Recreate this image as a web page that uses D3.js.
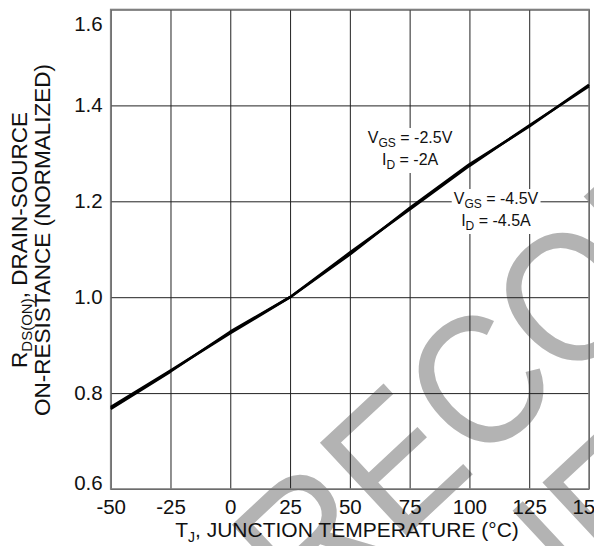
<!DOCTYPE html>
<html>
<head>
<meta charset="utf-8">
<script src="https://cdn.jsdelivr.net/npm/d3@7"></script>
<style>
  body { margin: 0; background: #fff; }
  svg { display: block; font-family: "Liberation Sans", Arial, sans-serif; }
</style>
</head>
<body>
<script>
// data
var temps = [-50, -25, 0, 25, 50, 75, 100, 125, 150];
var rdsVgs25 = [0.771, 0.847, 0.925, 1.0, 1.093, 1.183, 1.274, 1.358, 1.44];
var rdsVgs45 = [0.767, 0.845, 0.928, 1.0, 1.089, 1.186, 1.277, 1.356, 1.443];
var xTicks = [-50, -25, 0, 25, 50, 75, 100, 125, 150];
var yTicks = [0.6, 0.8, 1.0, 1.2, 1.4, 1.6];

var svgWidth = 594, svgHeight = 546;
var margin = { top: 9.5, right: 5, bottom: 57, left: 110.7 };
var width = svgWidth - margin.left - margin.right;
var height = svgHeight - margin.top - margin.bottom;

var svg = d3.select("body").append("svg")
  .attr("width", svgWidth)
  .attr("height", svgHeight);

// watermark, sits under everything
var wm = svg.append("g")
  .attr("transform", "translate(310,626) rotate(-43) scale(0.9,1)")
  .attr("fill", "#b3b3b3")
  .attr("font-size", 185)
  .attr("text-anchor", "middle");
wm.append("text").attr("x", 524).attr("y", 0).text("NOT RECOMMENDED");
wm.append("text").attr("x", 524).attr("y", 181).text("FOR NEW DESIGN");

var chart = svg.append("g")
  .attr("transform", `translate(${margin.left},${margin.top})`);

var x = d3.scaleLinear().domain([-50, 150]).range([0, width]);
var y = d3.scaleLinear().domain([0.6, 1.6]).range([height, 0]);

// grid
chart.append("g")
  .attr("transform", `translate(0,${height})`)
  .call(d3.axisBottom(x).tickValues(xTicks).tickSize(-height).tickFormat(""))
  .call(g => g.select(".domain").remove())
  .selectAll("line").attr("stroke", "#222");

chart.append("g")
  .call(d3.axisLeft(y).tickValues(yTicks).tickSize(-width).tickFormat(""))
  .call(g => g.select(".domain").remove())
  .selectAll("line").attr("stroke", "#222");

chart.append("rect")
  .attr("width", width)
  .attr("height", height)
  .attr("fill", "none")
  .attr("stroke", "#808080")
  .attr("stroke-width", 1.6);

// tick labels
var xAx = chart.append("g")
  .attr("transform", `translate(0,${height})`)
  .call(d3.axisBottom(x).tickValues(xTicks).tickSize(0).tickPadding(10).tickFormat(d => String(d)));
xAx.select(".domain").remove();
xAx.selectAll("text").attr("font-size", 20.5).attr("fill", "#111").attr("font-family", null);

var yAx = chart.append("g")
  .call(d3.axisLeft(y).tickValues(yTicks).tickSize(0).tickPadding(8).tickFormat(d => d.toFixed(1)));
yAx.select(".domain").remove();
yAx.selectAll("text").attr("font-size", 20.5).attr("fill", "#111").attr("font-family", null)
  .attr("dy", d => d === 1.6 ? "1.0em" : d === 0.6 ? "0em" : "0.32em");

// curves
var line = d3.line()
  .x((d, i) => x(temps[i]))
  .y(d => y(d));

[rdsVgs25, rdsVgs45].forEach(function(s) {
  chart.append("path")
    .datum(s)
    .attr("fill", "none")
    .attr("stroke", "#000")
    .attr("stroke-width", 2.6)
    .attr("stroke-linejoin", "round")
    .attr("d", line);
});

// annotations
function label(cx, by, v, id) {
  var g = chart.append("g").attr("font-size", 16).attr("fill", "#111").attr("text-anchor", "middle");
  var t1 = g.append("text").attr("x", cx).attr("y", by);
  t1.append("tspan").text("V");
  t1.append("tspan").attr("font-size", 12).attr("dy", 4).text("GS");
  t1.append("tspan").attr("dy", -4).text(" = " + v);
  var t2 = g.append("text").attr("x", cx).attr("y", by + 22);
  t2.append("tspan").text("I");
  t2.append("tspan").attr("font-size", 12).attr("dy", 4).text("D");
  t2.append("tspan").attr("dy", -4).text(" = " + id);
  var b = g.node().getBBox();
  g.insert("rect", "text")
    .attr("x", b.x - 2).attr("y", b.y - 1)
    .attr("width", b.width + 4).attr("height", b.height + 2)
    .attr("fill", "#fff");
}
label(x(75.2), 143 - margin.top, "-2.5V", "-2A");
label(x(111.1), 204 - margin.top, "-4.5V", "-4.5A");

// axis titles
var xt = svg.append("text")
  .attr("x", 347)
  .attr("y", 537)
  .attr("text-anchor", "middle")
  .attr("font-size", 21)
  .attr("fill", "#111");
xt.append("tspan").text("T");
xt.append("tspan").attr("font-size", 14).attr("dy", 5).text("J");
xt.append("tspan").attr("dy", -5).text(", JUNCTION TEMPERATURE (\u00B0C)");

var yt = svg.append("g")
  .attr("transform", "translate(0,240) rotate(-90)")
  .attr("text-anchor", "middle")
  .attr("font-size", 22.5)
  .attr("fill", "#111");
var y1 = yt.append("text").attr("x", 0).attr("y", 27);
y1.append("tspan").text("R");
y1.append("tspan").attr("font-size", 15).attr("dy", 5).text("DS(ON)");
y1.append("tspan").attr("dy", -5).text(", DRAIN-SOURCE");
yt.append("text").attr("x", 0).attr("y", 50).text("ON-RESISTANCE (NORMALIZED)");
</script>
</body>
</html>
